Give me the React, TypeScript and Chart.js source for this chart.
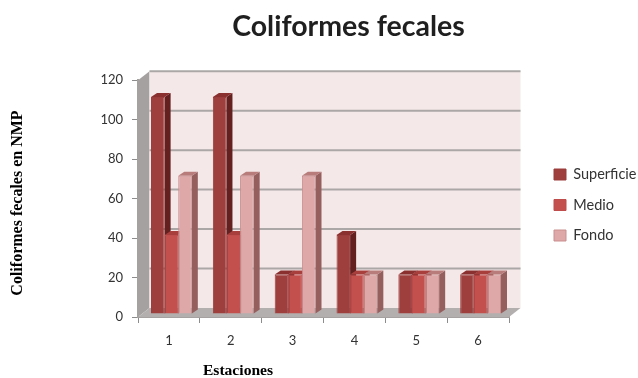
import React, { useEffect, useRef } from "react";
import { Chart, registerables } from "chart.js";

Chart.register(...registerables);

const estaciones = ["1", "2", "3", "4", "5", "6"];
const superficie = [110, 110, 20, 40, 20, 20];
const medio = [40, 40, 20, 20, 20, 20];
const fondo = [70, 70, 70, 20, 20, 20];
const yTicks = [0, 20, 40, 60, 80, 100, 120];

const frontColors = ["#9E3E3D", "#C4504E", "#DDA8A7"];
const sideColors = ["#641F1F", "#8C3432", "#955F5E"];
const topColors = ["#8A3130", "#A83F3D", "#B87C7B"];
const edgeColors = ["#9A3C3B", "#BE4D4B", "#C98F8E"];

const WALL_DX = 11.5;
const WALL_DY = -9;
const BAR_DX = 2.5;
const BAR_DY = -3;
const BAR_DEPTH_X = 6;
const BAR_DEPTH_Y = -4;
const LEGEND_PADDING = 16;

function poly(ctx: CanvasRenderingContext2D, pts: number[][], fill: string) {
  ctx.beginPath();
  pts.forEach(([x, y], i) => (i ? ctx.lineTo(x, y) : ctx.moveTo(x, y)));
  ctx.closePath();
  ctx.fillStyle = fill;
  ctx.fill();
}

// Draws the back wall, side wall and floor, then the extruded bars back to front.
const box3d = {
  id: "box3d",
  afterLayout(chart: any) {
    const { legend, titleBlock } = chart;
    if (legend) {
      const w = legend.right - legend.left;
      legend.left = 554 - LEGEND_PADDING;
      legend.right = legend.left + w;
      legend.top += 16;
      legend.bottom += 16;
    }
    if (titleBlock) {
      titleBlock.left = 0;
      titleBlock.right = 697;
    }
  },
  beforeDatasetsDraw(chart: any) {
    const { ctx, chartArea: a, scales } = chart;
    const y = scales.y;
    const y0 = y.getPixelForValue(0);
    const yTop = y.getPixelForValue(120);

    ctx.save();
    poly(ctx, [[a.left, yTop], [a.left + WALL_DX, yTop + WALL_DY], [a.left + WALL_DX, y0 + WALL_DY], [a.left, y0]], "#A5A1A1");
    poly(ctx, [[a.left + WALL_DX, yTop + WALL_DY], [a.right + WALL_DX, yTop + WALL_DY], [a.right + WALL_DX, y0 + WALL_DY], [a.left + WALL_DX, y0 + WALL_DY]], "#F4E8E8");
    poly(ctx, [[a.left, y0], [a.left + WALL_DX, y0 + WALL_DY], [a.right + WALL_DX, y0 + WALL_DY], [a.right, y0]], "#B3AFAF");

    ctx.strokeStyle = "#ABA7A7";
    ctx.lineWidth = 2;
    yTicks.slice(1).forEach((v) => {
      const py = y.getPixelForValue(v) + WALL_DY;
      ctx.beginPath();
      ctx.moveTo(a.left + WALL_DX, py);
      ctx.lineTo(a.right + WALL_DX, py);
      ctx.stroke();
    });

    ctx.translate(BAR_DX, BAR_DY);
    for (let d = 0; d < chart.data.datasets.length; d++) {
      chart.getDatasetMeta(d).data.forEach((bar: any) => {
        const p = bar.getProps(["x", "y", "base", "width"], true);
        const l = p.x - p.width / 2;
        const r = p.x + p.width / 2;
        poly(ctx, [[r, p.y], [r + BAR_DEPTH_X, p.y + BAR_DEPTH_Y], [r + BAR_DEPTH_X, p.base + BAR_DEPTH_Y], [r, p.base]], sideColors[d]);
        poly(ctx, [[l, p.y], [l + BAR_DEPTH_X, p.y + BAR_DEPTH_Y], [r + BAR_DEPTH_X, p.y + BAR_DEPTH_Y], [r, p.y]], topColors[d]);
        bar.draw(ctx);
      });
    }
    ctx.restore();
    return false;
  },
  afterDraw(chart: any) {
    const { ctx } = chart;
    ctx.save();
    ctx.fillStyle = "#000000";
    ctx.textAlign = "center";
    ctx.textBaseline = "middle";
    ctx.font = "bold 15.6px 'Liberation Serif'";
    ctx.fillText("Estaciones", 238, 371);
    ctx.translate(18, 203);
    ctx.rotate(-Math.PI / 2);
    ctx.font = "bold 16px 'Liberation Serif'";
    ctx.fillText("Coliformes fecales en NMP", 0, 0);
    ctx.restore();
  },
};

export default function App() {
  const ref = useRef<HTMLCanvasElement>(null);

  useEffect(() => {
    document.body.style.margin = "0";
    const names = ["Superficie", "Medio", "Fondo"];
    const chart = new Chart(ref.current!, {
      type: "bar",
      data: {
        labels: estaciones,
        datasets: [superficie, medio, fondo].map((data, i) => ({
          label: names[i],
          data,
          backgroundColor: frontColors[i],
          borderColor: edgeColors[i],
          borderWidth: 1,
          categoryPercentage: 0.66,
          barPercentage: 1,
        })),
      },
      options: {
        responsive: false,
        animation: false,
        layout: { padding: { top: 0, right: 20.5, bottom: 0, left: 0 } },
        plugins: {
          title: {
            display: true,
            text: "Coliformes fecales",
            color: "#1F1F1F",
            font: { family: "Lato", size: 28.5, weight: "bold" },
            padding: { top: 10, bottom: 36 },
          },
          legend: {
            position: "right",
            labels: {
              boxWidth: 12,
              boxHeight: 11,
              padding: LEGEND_PADDING,
              color: "#333333",
              font: { family: "Lato", size: 14.5 },
            },
          },
          tooltip: { enabled: false },
        },
        scales: {
          x: {
            grid: { drawOnChartArea: false, color: "#8C8C8C", tickLength: 6 },
            border: { color: "#A5A1A1", width: 2 },
            ticks: { padding: 10, color: "#333333", font: { family: "Lato", size: 13 }, maxRotation: 0 },
            afterFit: (s: any) => { s.height = 61; },
          },
          y: {
            min: 0,
            max: 120,
            grid: { drawOnChartArea: false, color: "#8C8C8C", tickLength: 6 },
            border: { color: "#A5A1A1", width: 2 },
            ticks: { stepSize: 20, padding: 9, color: "#333333", font: { family: "Lato", size: 13 } },
            afterFit: (s: any) => { s.width = 138; },
          },
        },
      },
      plugins: [box3d],
    } as any);
    return () => chart.destroy();
  }, []);

  return <canvas ref={ref} width={638} height={378} style={{ display: "block" }} />;
}
